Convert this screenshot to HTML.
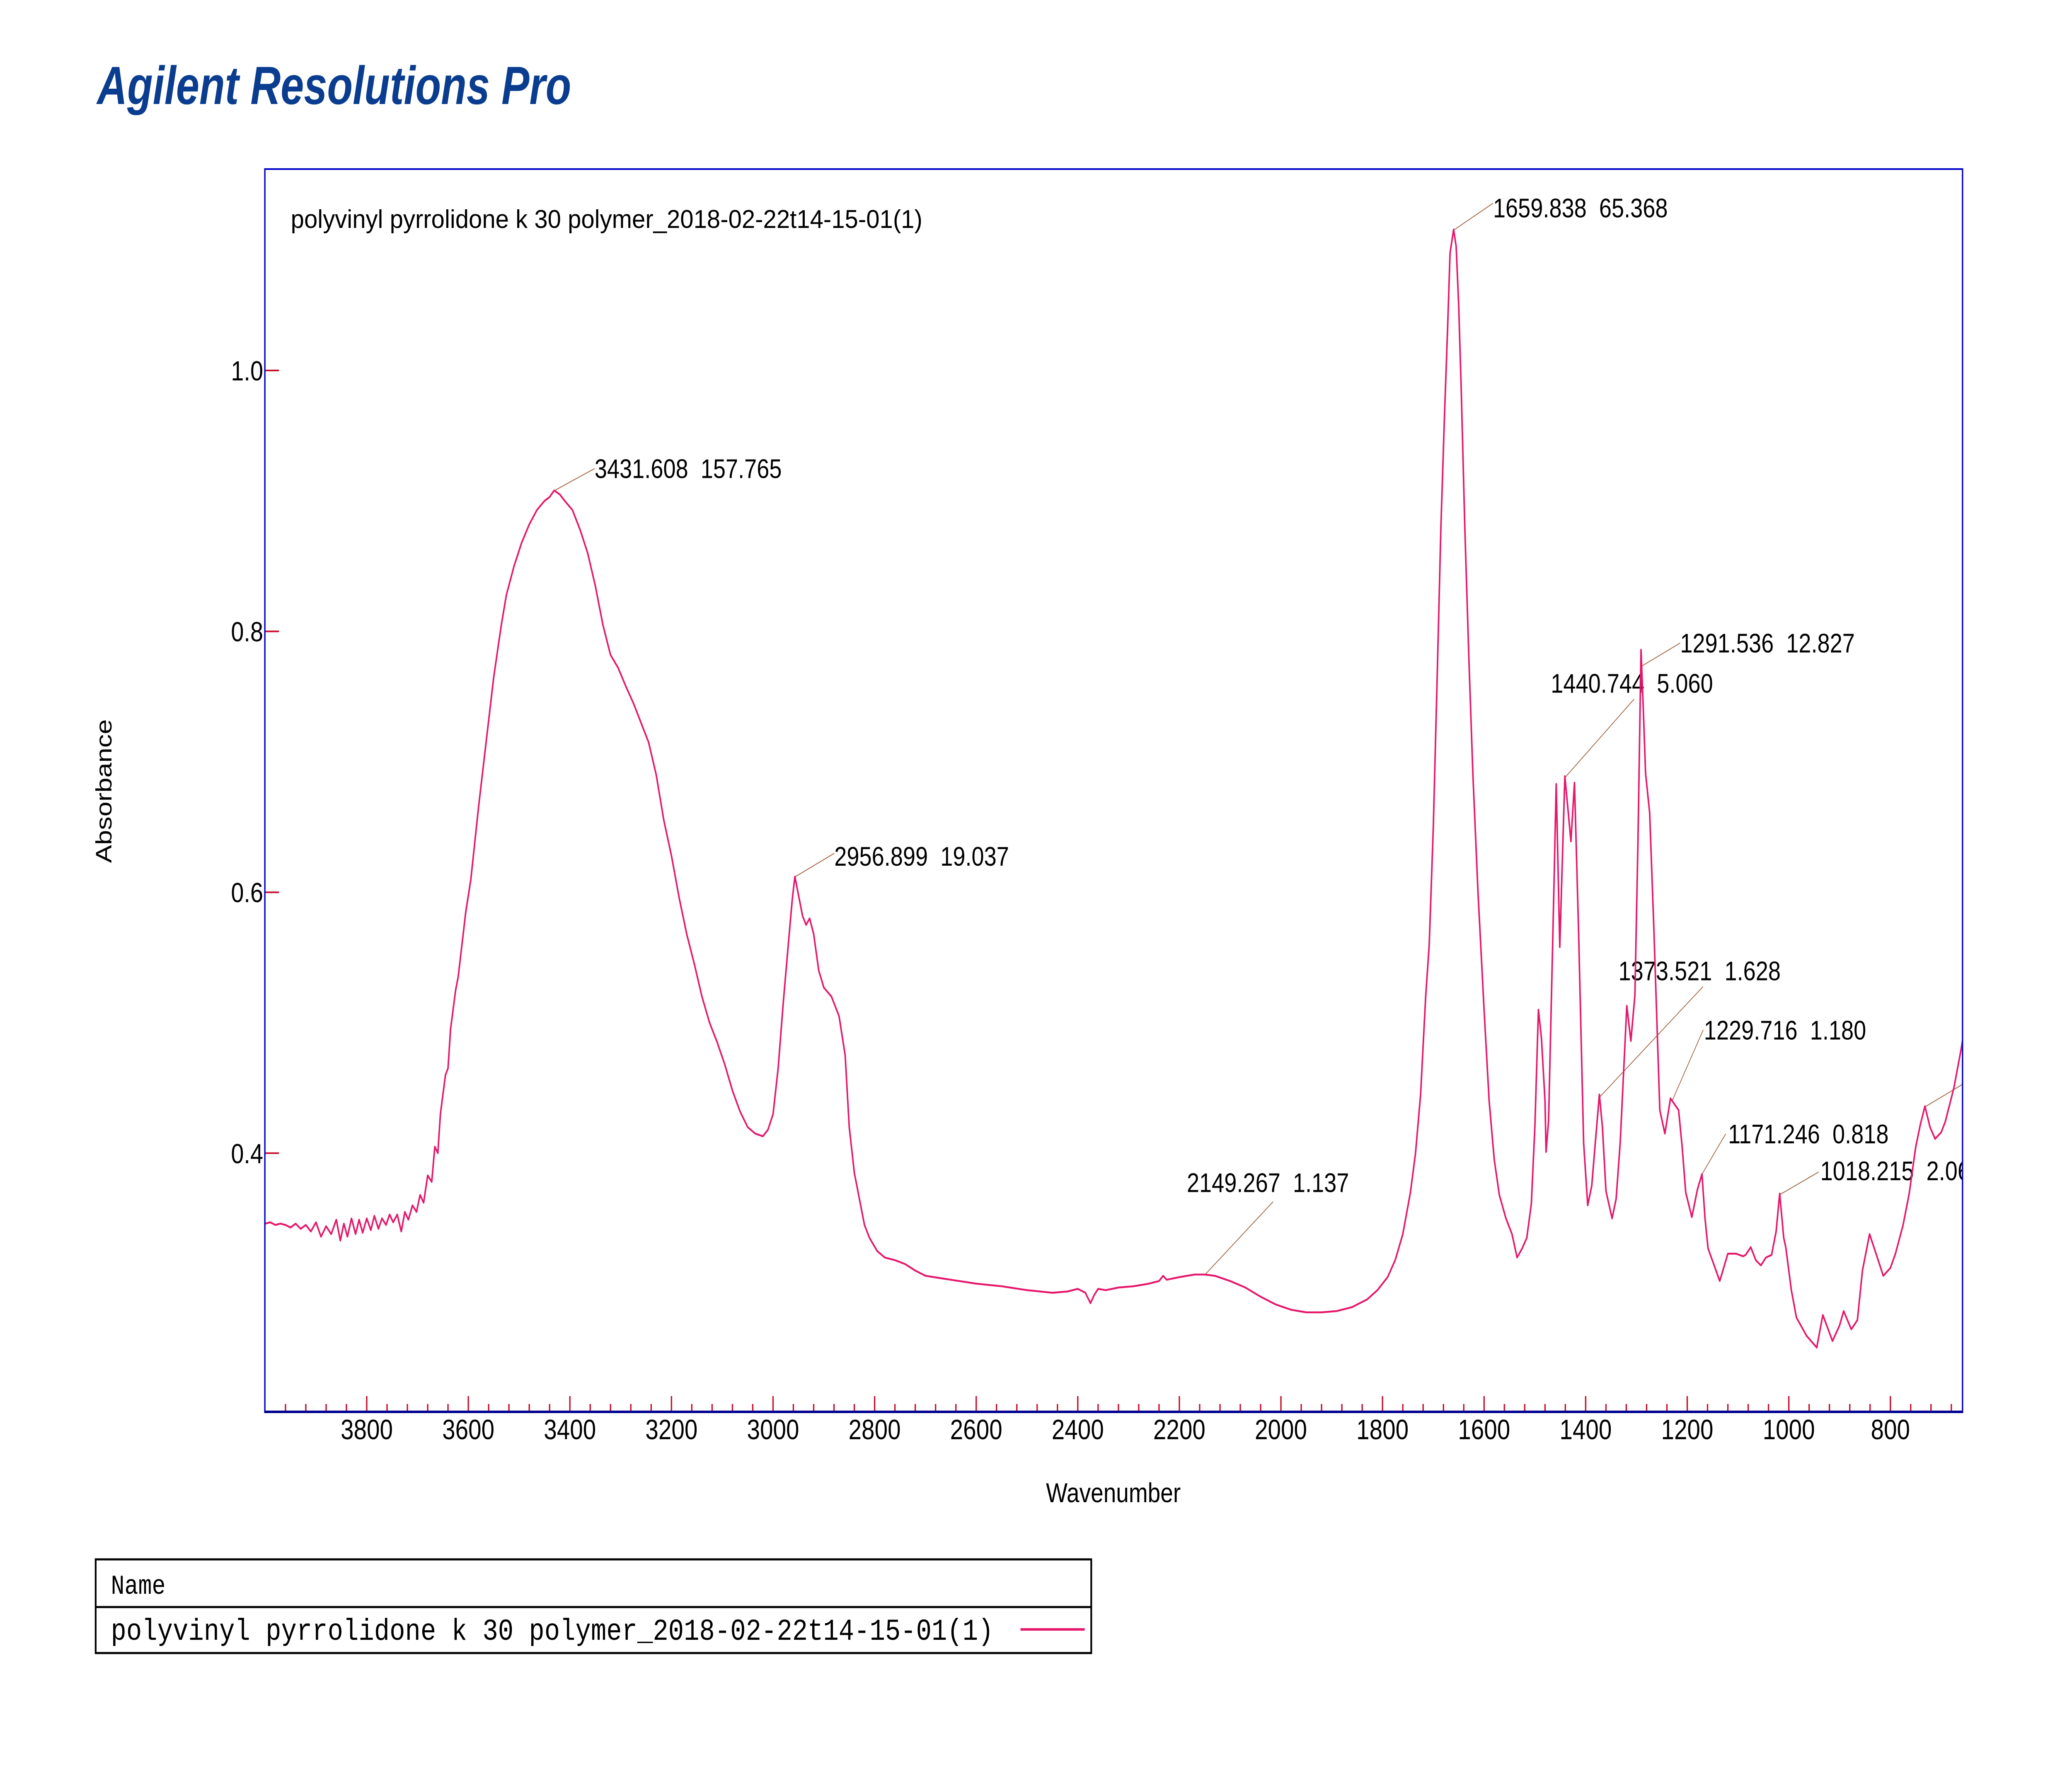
<!DOCTYPE html>
<html><head><meta charset="utf-8"><style>
html,body{margin:0;padding:0;background:#fff;overflow:hidden;}
svg{display:block;width:100vw;height:100vh;}
text{font-family:"Liberation Sans",Arial,sans-serif;}
</style></head><body>
<svg id="chart" viewBox="0 0 6000 4264" preserveAspectRatio="none" xmlns="http://www.w3.org/2000/svg">
<defs><clipPath id="plotclip"><rect x="767" y="408" width="4916" height="2999"/></clipPath></defs>
<text x="281" y="251" font-size="130" font-weight="bold" font-style="italic" fill="#0a3d8f" textLength="1373" lengthAdjust="spacingAndGlyphs">Agilent Resolutions Pro</text>
<text x="842" y="550" font-size="62" fill="#000" textLength="1829" lengthAdjust="spacingAndGlyphs">polyvinyl pyrrolidone k 30 polymer_2018-02-22t14-15-01(1)</text>
<g id="ticks"></g>
<g id="annots" clip-path="url(#plotclip)"></g>
<g clip-path="url(#plotclip)"><path id="spectrum" fill="none" stroke="#e6176c" stroke-width="4.5" stroke-linejoin="round"/></g>
<rect x="767" y="408" width="4916" height="2999" fill="none" stroke="#0000c8" stroke-width="4"/>
<line x1="765" y1="3407" x2="5685" y2="3407" stroke="#000090" stroke-width="6"/>
<text transform="translate(323,1909) rotate(-90)" text-anchor="middle" font-size="65">Absorbance</text>
<text x="3224" y="3625" text-anchor="middle" font-size="66">Wavenumber</text>
<g>
<rect x="277" y="3763" width="2883" height="226" fill="none" stroke="#000" stroke-width="5"/>
<line x1="277" y1="3878" x2="3160" y2="3878" stroke="#000" stroke-width="5"/>
<text x="321" y="3846" font-size="66" style="font-family:'Liberation Mono',monospace">Name</text>
<text x="321" y="3957" font-size="73" textLength="2556" lengthAdjust="spacingAndGlyphs" style="font-family:'Liberation Mono',monospace">polyvinyl pyrrolidone k 30 polymer_2018-02-22t14-15-01(1)</text>
<line x1="2955" y1="3932" x2="3141" y2="3932" stroke="#e6176c" stroke-width="6"/>
</g>
</svg>
<script>
const wavenumbers = [4000,3990,3980,3970,3960,3950,3940,3930,3920,3910,3900,3890,3880,3870,3860,3852,3845,3838,3830,3822,3815,3808,3800,3792,3785,3777,3770,3762,3755,3748,3740,3732,3725,3718,3710,3702,3695,3688,3680,3672,3666,3660,3655,3650,3645,3640,3635,3625,3620,3605,3595,3580,3565,3550,3535,3525,3510,3495,3480,3465,3450,3440,3431,3420,3410,3395,3380,3365,3350,3335,3320,3305,3290,3275,3260,3245,3230,3215,3200,3185,3170,3155,3140,3125,3110,3095,3080,3065,3050,3035,3020,3010,3000,2990,2980,2970,2962,2957,2950,2942,2935,2928,2920,2910,2900,2885,2870,2858,2850,2840,2830,2820,2810,2795,2780,2760,2740,2720,2700,2650,2600,2550,2500,2450,2420,2400,2385,2375,2368,2360,2345,2320,2290,2260,2240,2232,2225,2200,2170,2150,2130,2100,2070,2040,2010,1980,1950,1920,1890,1860,1830,1810,1790,1775,1760,1745,1735,1725,1715,1708,1700,1692,1685,1678,1672,1667,1660,1655,1650,1645,1638,1630,1622,1612,1600,1590,1580,1570,1557,1545,1535,1525,1516,1507,1500,1493,1487,1480,1478,1473,1465,1458,1451,1441,1434,1429,1422,1414,1404,1396,1388,1381,1373,1367,1360,1348,1340,1332,1319,1311,1303,1297,1291,1286,1282,1274,1266,1254,1244,1233,1217,1210,1203,1191,1180,1171,1165,1159,1147,1136,1120,1104,1090,1085,1075,1065,1055,1045,1034,1025,1018,1010,1006,995,985,965,945,933,914,900,892,877,865,855,841,830,814,800,790,775,763,750,741,732,722,712,700,692,675,661,650];
const absorbance = [.346,.347,.345,.346,.345,.343,.346,.342,.345,.340,.347,.336,.344,.338,.349,.333,.346,.336,.350,.338,.349,.339,.350,.341,.352,.342,.350,.345,.353,.347,.353,.340,.355,.349,.360,.355,.368,.362,.383,.378,.405,.400,.430,.445,.460,.465,.495,.525,.535,.585,.610,.665,.715,.765,.805,.828,.850,.868,.882,.893,.900,.903,.908,.905,.900,.893,.878,.860,.835,.805,.782,.772,.758,.745,.730,.715,.690,.655,.628,.596,.568,.545,.520,.500,.485,.468,.448,.432,.420,.415,.413,.418,.430,.465,.515,.560,.595,.612,.598,.582,.575,.580,.568,.540,.527,.520,.505,.475,.420,.385,.365,.345,.335,.325,.320,.318,.315,.310,.306,.303,.300,.298,.295,.293,.294,.296,.293,.285,.291,.296,.295,.297,.298,.300,.302,.306,.303,.305,.307,.307,.306,.302,.297,.290,.284,.280,.278,.278,.279,.282,.288,.295,.305,.318,.338,.370,.400,.445,.520,.560,.650,.770,.880,.965,1.030,1.090,1.108,1.095,1.050,.985,.880,.780,.690,.600,.510,.440,.395,.368,.350,.338,.320,.327,.335,.361,.420,.510,.488,.440,.401,.425,.560,.683,.558,.689,.660,.639,.684,.571,.408,.360,.375,.408,.445,.420,.371,.350,.365,.408,.513,.486,.521,.640,.786,.735,.691,.661,.575,.433,.415,.442,.433,.405,.370,.351,.372,.384,.350,.327,.314,.302,.323,.323,.321,.322,.328,.318,.314,.320,.322,.340,.369,.335,.328,.295,.274,.260,.251,.276,.256,.268,.279,.265,.272,.310,.338,.325,.306,.312,.323,.345,.369,.405,.422,.436,.420,.411,.416,.424,.450,.479,.505];
const xTickLabels = [3800,3600,3400,3200,3000,2800,2600,2400,2200,2000,1800,1600,1400,1200,1000,800];
const yTickLabels = [0.4,0.6,0.8,1.0];
const peakWavenumbers = [3431.608,2956.899,1659.838,1291.536,1440.744,1373.521,1229.716,1171.246,1018.215,2149.267,732.405];
const peakLabels = ["3431.608  157.765","2956.899  19.037","1659.838  65.368","1291.536  12.827","1440.744  5.060","1373.521  1.628","1229.716  1.180","1171.246  0.818","1018.215  2.067","2149.267  1.137","732.4"];
const annLineOff = [[118,-54],[114,-57],[114,-65],[114,-57],[200,-189],[301,-268],[90,-171],[69,-98],[113,-55],[197,-176],[110,-55]];
const annTextOff = [[118,-31],[114,-27],[114,-31],[114,-34],[-41,-205],[56,-283],[92,-148],[76,-75],[118,-35],[-53,-199],[116,-37]];

const NS = "http://www.w3.org/2000/svg";
const X0 = 1062, PXCM = 1.4707, Y0 = 894, PXA = 3148, BOTTOM = 3407, LEFT = 767;
function xs(w){ return X0 + (3800 - w) * PXCM; }
function ys(a){ return Y0 + (1 - a) * PXA; }
function interp(w){
  for (let i=0;i<wavenumbers.length-1;i++){
    const a=wavenumbers[i], b=wavenumbers[i+1];
    if ((w<=a && w>=b)){ const t=(a-w)/(a-b); return absorbance[i]+(absorbance[i+1]-absorbance[i])*t; }
  }
  return absorbance[absorbance.length-1];
}
function mk(tag, attrs){ const e=document.createElementNS(NS,tag); for(const k in attrs) e.setAttribute(k, attrs[k]); return e; }

let d="";
wavenumbers.forEach((w,i)=>{ d += (i?"L":"M") + xs(w).toFixed(1) + " " + ys(absorbance[i]).toFixed(1) + " "; });
document.getElementById("spectrum").setAttribute("d", d);

const tg = document.getElementById("ticks");
for (let w=3960; w>=660; w-=40){
  const major = (w % 200 === 0);
  const t = mk("line",{x1:xs(w),x2:xs(w),y1:BOTTOM,y2:BOTTOM-(major?38:19),stroke:"#c8102e","stroke-width":4});
  
  
  tg.appendChild(t);
}
xTickLabels.forEach(v=>{
  const t = mk("text",{x:xs(v),y:3473,"text-anchor":"middle","font-size":68});
  t.textContent = v;
  
  
  tg.appendChild(t);
});
yTickLabels.forEach(v=>{
  const l = mk("line",{x1:LEFT,x2:LEFT+41,y1:ys(v),y2:ys(v),stroke:"#c8102e","stroke-width":4});
  
  
  tg.appendChild(l);
  const t = mk("text",{x:762,y:ys(v)+24,"text-anchor":"end","font-size":67});
  t.textContent = v.toFixed(1);
  
  
  tg.appendChild(t);
});
const ag = document.getElementById("annots");
peakWavenumbers.forEach((w,i)=>{
  const px = xs(w), py = ys(interp(w));
  const l = mk("line",{x1:px,y1:py,x2:px+annLineOff[i][0],y2:py+annLineOff[i][1],stroke:"#a0603c","stroke-width":2});
  
  
  ag.appendChild(l);
  const t = mk("text",{x:px+annTextOff[i][0],y:py+annTextOff[i][1],"font-size":65});
  t.setAttribute("style","white-space:pre");
  t.textContent = peakLabels[i];
  
  
  ag.appendChild(t);
});
</script>
</body></html>
